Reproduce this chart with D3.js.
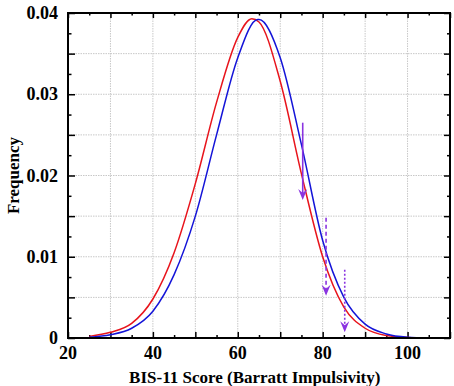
<!DOCTYPE html>
<html><head><meta charset="utf-8">
<script src="https://cdn.jsdelivr.net/npm/d3@7"></script>
<style>body{margin:0;background:#fff}</style>
</head><body>
<svg id="c" width="454" height="386"></svg>
<script>
const xTickLabels = [20, 40, 60, 80, 100];
const yTickLabels = [0, 0.01, 0.02, 0.03, 0.04];
const redX = [25, 30, 35, 40, 45, 50, 55, 60, 63.3, 65, 70, 75, 80, 85, 90, 95, 100, 105];
const redY = [0.0002, 0.0007, 0.0018, 0.0048, 0.0105, 0.019, 0.029, 0.037, 0.0393, 0.0389, 0.0316, 0.0202, 0.0100, 0.0038, 0.0012, 0.0003, 0.00006, 0];
const blueX = [25, 30, 35, 40, 45, 50, 55, 60, 64.7, 65, 70, 75, 80, 85, 90, 95, 100, 105];
const blueY = [0.0001, 0.0004, 0.0012, 0.0033, 0.0078, 0.015, 0.025, 0.0345, 0.0392, 0.0392, 0.0345, 0.0238, 0.0120, 0.0050, 0.0017, 0.0005, 0.0001, 0];
const arrowX = [75.3, 80.8, 85.2];
const arrowFrom = [0.0265, 0.0148, 0.0084];
const arrowTo = [0.0170, 0.0052, 0.0007];
const arrowDash = ["none", "4,3", "2,2"];

const svg = d3.select("#c");
const L = 68, R = 450, T = 13, B = 338;
const x = d3.scaleLinear().domain([20, 110]).range([L, R]);
const y = d3.scaleLinear().domain([0, 0.04]).range([B, T]);

// grid
const g = svg.append("g");
g.selectAll(".vg").data(d3.range(30, 110, 10)).join("line")
  .attr("x1", d => x(d)).attr("x2", d => x(d)).attr("y1", T).attr("y2", B)
  .attr("stroke", "#c8c8c8").attr("stroke-width", 1).attr("stroke-dasharray", "1.5,1");
g.selectAll(".hg").data(d3.range(1, 8).map(i => i * 0.005)).join("line")
  .attr("y1", d => y(d)).attr("y2", d => y(d)).attr("x1", L).attr("x2", R)
  .attr("stroke", "#c8c8c8").attr("stroke-width", 1).attr("stroke-dasharray", "1.5,1");

// axes with inward ticks
const font = "'Liberation Serif', 'Times New Roman', serif";
function addAxis(axisGen, transform) {
  const a = svg.append("g").attr("transform", transform).call(axisGen);
  a.select(".domain").remove();
  a.selectAll("line").attr("stroke", "#000").attr("stroke-width", 1.5);
  a.selectAll("text").remove();
  return a;
}
const xMajor = d3.range(20, 111, 10), xMinor = d3.range(25, 110, 10);
const yMajor = d3.range(0, 9).map(i => i * 0.005), yMinor = d3.range(0, 8).map(i => i * 0.005 + 0.0025);
addAxis(d3.axisTop(x).tickValues(xMajor).tickSize(6), `translate(0,${B})`);
addAxis(d3.axisTop(x).tickValues(xMinor).tickSize(3), `translate(0,${B})`);
addAxis(d3.axisBottom(x).tickValues(xMajor).tickSize(5), `translate(0,${T})`);
addAxis(d3.axisBottom(x).tickValues(xMinor).tickSize(2.5), `translate(0,${T})`);
addAxis(d3.axisRight(y).tickValues(yMajor).tickSize(7), `translate(${L},0)`);
addAxis(d3.axisRight(y).tickValues(yMinor).tickSize(3.5), `translate(${L},0)`);
addAxis(d3.axisLeft(y).tickValues(yMajor).tickSize(6), `translate(${R},0)`);
addAxis(d3.axisLeft(y).tickValues(yMinor).tickSize(3), `translate(${R},0)`);

// tick labels
svg.append("g").selectAll("text").data(xTickLabels).join("text")
  .attr("x", d => x(d)).attr("y", 359).attr("text-anchor", "middle")
  .attr("font-family", font).attr("font-weight", "bold").attr("font-size", 18)
  .text(d => d);
svg.append("g").selectAll("text").data(yTickLabels).join("text")
  .attr("x", 58).attr("y", d => y(d) + 6).attr("text-anchor", "end")
  .attr("font-family", font).attr("font-weight", "bold").attr("font-size", 18)
  .text(d => d === 0 ? "0" : d3.format(".2f")(d));

// titles
svg.append("text").attr("x", x(64)).attr("y", 383).attr("text-anchor", "middle")
  .attr("font-family", font).attr("font-weight", "bold").attr("font-size", 17)
  .text("BIS-11 Score (Barratt Impulsivity)");
svg.append("text").attr("transform", `translate(19,${(T + B) / 2}) rotate(-90)`)
  .attr("text-anchor", "middle")
  .attr("font-family", font).attr("font-weight", "bold").attr("font-size", 17)
  .text("Frequency");

// curves
const line = d3.line().x(d => x(d[0])).y(d => y(d[1])).curve(d3.curveMonotoneX);
svg.append("path").attr("d", line(redX.map((v, i) => [v, redY[i]])))
  .attr("fill", "none").attr("stroke", "#e8141c").attr("stroke-width", 1.5);
svg.append("path").attr("d", line(blueX.map((v, i) => [v, blueY[i]])))
  .attr("fill", "none").attr("stroke", "#1414d8").attr("stroke-width", 1.5);

// arrows
const purple = "#8a34e0";
arrowX.forEach((ax, i) => {
  const px = x(ax), y0 = y(arrowFrom[i]), y1 = y(arrowTo[i]);
  svg.append("line").attr("x1", px).attr("x2", px).attr("y1", y0).attr("y2", y1 - 6)
    .attr("stroke", purple).attr("stroke-width", 1.6)
    .attr("stroke-dasharray", arrowDash[i]);
  svg.append("path")
    .attr("d", `M${px},${y1} L${px - 4.5},${y1 - 11} L${px},${y1 - 7} L${px + 4.5},${y1 - 11} Z`)
    .attr("fill", purple);
});

// frame
svg.append("rect").attr("x", L).attr("y", T).attr("width", R - L).attr("height", B - T)
  .attr("fill", "none").attr("stroke", "#000").attr("stroke-width", 2);
</script>
</body></html>
